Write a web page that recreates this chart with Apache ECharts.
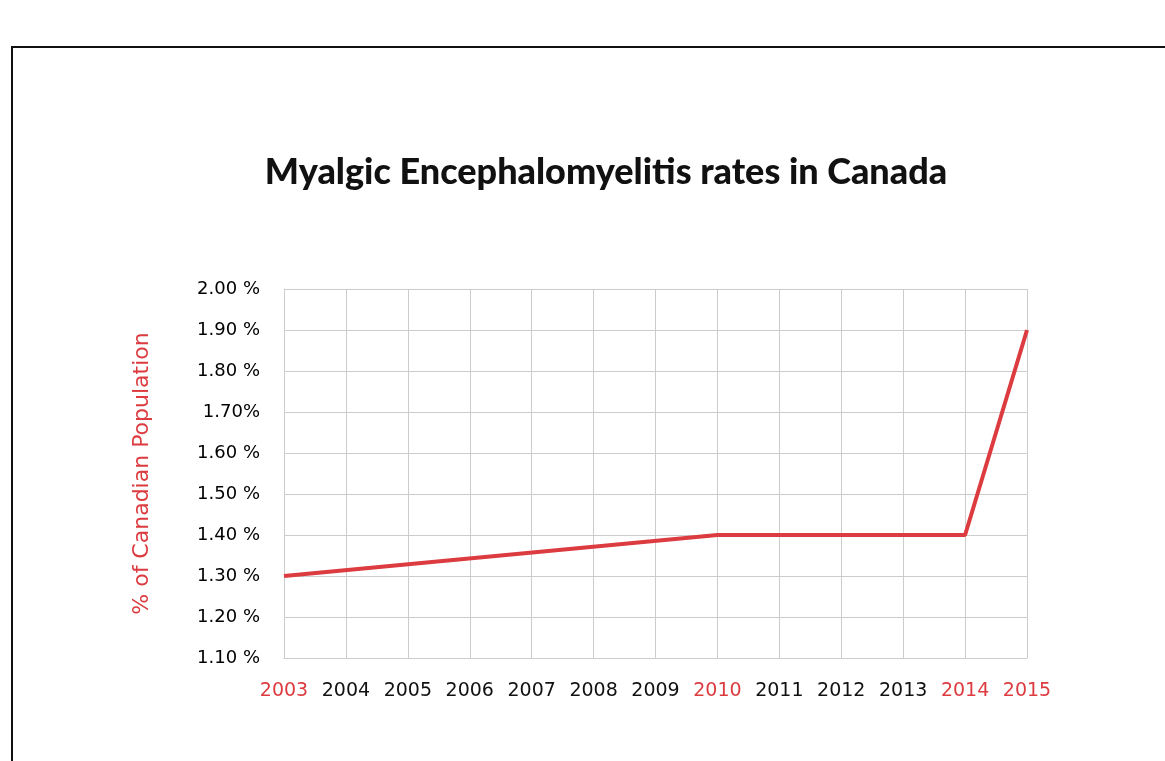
<!DOCTYPE html>
<html>
<head>
<meta charset="utf-8">
<style>
html,body{margin:0;padding:0;background:#fff;}
#chart{width:1165px;height:761px;}
</style>
<script src="https://cdn.jsdelivr.net/npm/echarts@6/dist/echarts.min.js"></script>
</head>
<body>
<div id="chart"></div>
<script>
const years = ['2003','2004','2005','2006','2007','2008','2009','2010','2011','2012','2013','2014','2015'];
const rates = [1.30, null, null, null, null, null, null, 1.40, null, null, null, 1.40, 1.90];
const highlightYears = ['2003','2010','2014','2015'];
const yTickLabels = {'1.1':'1.10 %','1.2':'1.20 %','1.3':'1.30 %','1.4':'1.40 %','1.5':'1.50 %','1.6':'1.60 %','1.7':'1.70%','1.8':'1.80 %','1.9':'1.90 %','2':'2.00 %'};

const RED = '#dc3b40';
const chart = echarts.init(document.getElementById('chart'));
chart.setOption({
  backgroundColor: '#fff',
  animation: false,
  title: {
    text: 'Myalgic Encephalomyelitis rates in Canada',
    left: 601, top: 149, textAlign: 'center',
    textStyle: {fontFamily: 'Lato', fontWeight: 900, fontSize: 36, color: '#111'}
  },
  graphic: [{
    type: 'rect',
    shape: {x: 12, y: 47, width: 1200, height: 800},
    style: {fill: 'none', stroke: '#111', lineWidth: 2}
  }],
  grid: {left: 284, right: 138, top: 289, bottom: 103},
  xAxis: {
    type: 'category',
    data: years,
    boundaryGap: false,
    axisLine: {lineStyle: {color: '#cccccc'}},
    axisTick: {show: false},
    splitLine: {show: true, interval: 0, lineStyle: {color: '#cccccc', width: 1}},
    axisLabel: {
      interval: 0,
      hideOverlap: false,
      margin: 24,
      fontFamily: 'DejaVu Sans', fontSize: 19,
      color: function (v) { return highlightYears.indexOf(v) >= 0 ? RED : '#111'; }
    }
  },
  yAxis: {
    type: 'value',
    min: 1.1, max: 2.0, interval: 0.1,
    name: '% of Canadian Population',
    nameLocation: 'middle',
    nameGap: 131,
    nameTextStyle: {fontFamily: 'DejaVu Sans', fontSize: 22, color: RED},
    axisLine: {show: true, lineStyle: {color: '#cccccc'}},
    axisTick: {show: false},
    splitLine: {lineStyle: {color: '#cccccc', width: 1}},
    axisLabel: {
      margin: 24,
      fontFamily: 'DejaVu Sans', fontSize: 18, color: '#000',
      formatter: function (v) { const k = String(Math.round(v * 10) / 10); return yTickLabels[k] || v; }
    }
  },
  series: [{
    type: 'line',
    data: rates,
    connectNulls: true,
    symbol: 'none',
    lineStyle: {color: RED, width: 4}
  }]
});
</script>
</body>
</html>
